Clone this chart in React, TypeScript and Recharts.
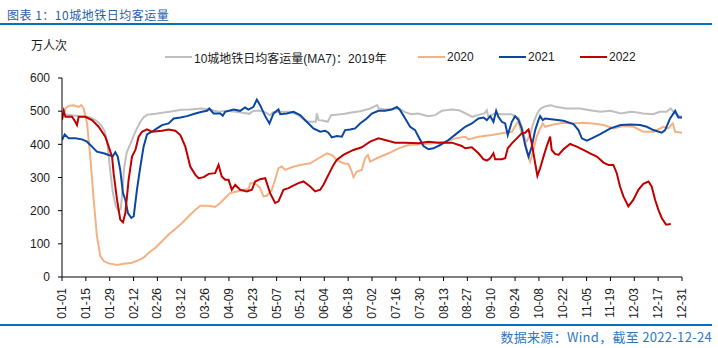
import React from "react";
import { LineChart, Line, XAxis, YAxis } from "recharts";

const titleText = "图表 1：10城地铁日均客运量";
const unitText = "万人次";
const sourceText = "数据来源：Wind，截至 2022-12-24";

const seriesNames = ["10城地铁日均客运量(MA7)：2019年", "2020", "2021", "2022"];
const seriesColors = ["#BFBFBF", "#F4B183", "#0B47A1", "#C00000"];

const xTickDays = [0, 14, 28, 42, 56, 70, 84, 98, 112, 126, 140, 154, 168, 182, 196, 210, 224, 238, 252, 266, 280, 294, 308, 322, 336, 350, 364];
const xTickLabels = ["01-01", "01-15", "01-29", "02-12", "02-26", "03-12", "03-26", "04-09", "04-23", "05-07", "05-21", "06-04", "06-18", "07-02", "07-16", "07-30", "08-13", "08-27", "09-10", "09-24", "10-08", "10-22", "11-05", "11-19", "12-03", "12-17", "12-31"];
const yTicks = [0, 100, 200, 300, 400, 500, 600];

// [day of year, value]
const s2019: [number, number][] = [
  [0, 485], [2, 490], [6, 488], [10, 485], [14, 484], [17, 480], [20, 472], [23, 458], [25, 440], [26.5, 410], [27.5, 360], [28.5, 310], [30, 250], [31.5, 215], [33, 200], [34.5, 205], [35.5, 260], [36.5, 330], [38, 375], [40, 400], [42, 425], [44, 448], [46, 468], [48, 482], [50, 489], [55, 492], [60, 496], [65, 500], [70, 504], [75, 505], [82, 508], [87, 504], [92, 498], [97, 501], [102, 498], [108, 494], [110, 492], [112, 500], [116, 502], [120, 495], [122, 488], [124, 497], [128, 498], [134, 498], [138, 490], [140, 483], [143, 470], [146, 468], [149, 468], [149.6, 493], [150.6, 473], [153, 472], [156, 468], [158, 488], [162, 490], [166, 492], [170, 496], [175, 500], [181, 508], [185, 518], [186, 508], [190, 505], [198, 508], [201, 498], [205, 491], [209, 493], [215, 485], [219, 488], [223, 501], [229, 505], [233, 503], [237, 493], [241, 483], [244, 488], [248, 493], [249.4, 503], [250.4, 483], [254, 493], [258, 491], [264, 491], [266, 483], [268, 480], [270, 453], [272, 413], [273, 410], [275, 433], [277, 468], [279, 493], [281, 508], [284, 515], [287, 518], [290, 513], [296, 508], [304, 508], [310, 503], [316, 498], [322, 501], [328, 493], [334, 498], [338, 496], [341, 493], [347, 491], [351, 498], [355, 498], [357.4, 508], [359, 498], [361, 488], [364, 483],
];

const s2020: [number, number][] = [
  [0, 475], [2, 508], [3.9, 516], [6.8, 518], [9.8, 513], [11.4, 518], [12.7, 508], [14.7, 463], [16.6, 363], [18.6, 233], [20.5, 123], [22.5, 63], [24.5, 48], [27.4, 41], [32.3, 36], [36.2, 40], [41.1, 43], [45, 51], [47.9, 58], [50.9, 73], [54.8, 88], [58.7, 108], [62.6, 128], [66.5, 145], [70.5, 163], [74.4, 183], [78.3, 203], [81.2, 215], [86.1, 215], [89.9, 211], [92.9, 223], [95.8, 238], [98.7, 253], [102.6, 258], [106.6, 263], [109.5, 265], [110.5, 283], [112.4, 283], [114.4, 278], [116.3, 268], [118.3, 243], [120.3, 245], [123.2, 263], [125.1, 293], [127.1, 328], [129.1, 333], [131, 323], [134.9, 331], [139.8, 338], [145.7, 343], [150.6, 358], [155.5, 373], [158.4, 368], [161.3, 353], [165.2, 343], [168.2, 341], [170.1, 318], [171.1, 301], [173.1, 318], [176, 323], [178, 358], [179.6, 368], [180.9, 348], [184.8, 358], [191.7, 373], [197.6, 388], [203.4, 398], [211.3, 400], [217.1, 403], [225, 408], [230.8, 418], [236.7, 423], [238.6, 415], [244.5, 423], [252.3, 428], [260.2, 435], [264.1, 438], [267, 463], [268, 468], [269.9, 433], [271.9, 413], [272.9, 378], [274.8, 348], [276.8, 383], [278.7, 423], [280.7, 448], [282.3, 463], [283.6, 453], [288.5, 460], [294.4, 465], [300.3, 463], [306.1, 465], [312, 463], [317.9, 458], [323.7, 448], [329.6, 455], [335.5, 453], [341.3, 438], [347.2, 438], [353.1, 453], [356, 448], [358.6, 463], [360, 438], [364.2, 435],
];

const s2021: [number, number][] = [
  [0, 413], [1.6, 430], [3.9, 418], [7.8, 418], [11.7, 415], [14.7, 408], [17.6, 393], [20.5, 378], [24.5, 373], [27.4, 368], [29.7, 363], [31.3, 376], [32.7, 363], [34.2, 323], [35.8, 253], [37.2, 233], [38.7, 193], [40.7, 178], [42.1, 183], [44, 263], [46, 333], [47.9, 393], [49.9, 430], [52.8, 438], [55.8, 448], [58.7, 458], [62.6, 463], [65.6, 478], [69.5, 481], [73.4, 485], [78.3, 493], [82.2, 498], [85.1, 501], [86.5, 508], [89, 493], [92.9, 493], [94.4, 486], [95.8, 498], [100.7, 505], [104.6, 501], [107.5, 511], [109.5, 505], [112.4, 513], [114.4, 535], [116.3, 518], [119.3, 485], [121.8, 463], [124.2, 493], [127.1, 505], [128.1, 491], [132, 493], [135.9, 498], [139.8, 488], [143.7, 468], [147.6, 448], [151.6, 438], [154.5, 441], [156.4, 435], [158.4, 421], [161.3, 425], [164.3, 423], [166.2, 443], [169.2, 445], [172.1, 448], [175, 463], [178.9, 478], [181.9, 493], [185.8, 501], [189.7, 501], [193.6, 505], [196.6, 513], [198.5, 503], [201.5, 478], [204.4, 453], [207.3, 443], [209.3, 423], [212.2, 395], [215.2, 385], [218.1, 388], [222, 398], [226.9, 413], [231.8, 433], [236.7, 453], [240.6, 463], [244.5, 478], [247.4, 481], [249.4, 473], [251.4, 485], [253.3, 468], [254.9, 501], [256.2, 483], [258.2, 468], [260.2, 463], [261.7, 428], [264.1, 468], [266, 485], [268, 473], [269.9, 448], [271.9, 398], [273.9, 363], [275.8, 393], [277.8, 443], [279.7, 473], [280.7, 485], [282.3, 473], [283.6, 478], [288.5, 475], [294.4, 471], [300.3, 461], [303.2, 443], [305.2, 418], [308.1, 411], [311, 418], [316, 431], [322, 448], [328, 458], [333.5, 460], [339.4, 458], [343.3, 453], [347.2, 443], [352.1, 435], [354.1, 443], [357, 478], [360, 501], [361, 490], [361.9, 481], [364.2, 481],
];

const s2022: [number, number][] = [
  [0, 473], [0.5, 490], [1, 501], [2, 483], [5.9, 483], [7.8, 468], [8.8, 458], [9.8, 483], [13.7, 483], [17.6, 473], [21.5, 453], [25.4, 423], [27.4, 393], [29.4, 363], [30.3, 313], [32.3, 233], [34.2, 173], [35.8, 165], [37.2, 193], [39.1, 293], [41.1, 363], [43.1, 383], [45, 423], [47, 438], [49.9, 445], [52.8, 438], [58.7, 441], [62.6, 445], [66.5, 441], [69.5, 428], [72.4, 393], [75.3, 333], [78.3, 308], [80.2, 298], [83.2, 301], [86.1, 311], [89.9, 313], [91.9, 338], [93.8, 303], [95.8, 293], [97.8, 293], [99.7, 263], [101.7, 278], [104.6, 263], [108.5, 258], [111.5, 263], [113.4, 288], [116.3, 295], [119.3, 298], [122.2, 253], [125.1, 223], [127.1, 228], [130, 263], [133, 268], [134.9, 273], [138.8, 283], [141.8, 288], [145.7, 273], [148.6, 258], [151.6, 263], [153.5, 278], [156.4, 308], [159.4, 338], [161.3, 353], [165.2, 368], [171.1, 383], [176, 391], [178, 398], [180.9, 408], [185.8, 418], [189.7, 413], [195.6, 405], [201.5, 405], [209.3, 403], [215.2, 408], [221, 405], [228.9, 405], [234.7, 395], [236.7, 388], [240.6, 391], [244.5, 373], [247.4, 355], [249.4, 351], [251.4, 358], [253.3, 373], [254.3, 355], [258.2, 355], [260.2, 358], [261.7, 388], [264.1, 403], [267, 418], [269.9, 433], [271.9, 435], [273.9, 445], [275.8, 403], [277.8, 343], [279.1, 305], [280.7, 328], [282.7, 363], [284.6, 395], [286.6, 423], [287.5, 383], [289.5, 371], [291.5, 368], [294.4, 385], [298.3, 401], [302.2, 393], [306.1, 383], [310, 373], [314, 363], [317.9, 345], [320.8, 338], [323.7, 338], [325.7, 313], [327.6, 273], [329.6, 243], [332.5, 213], [335.5, 233], [338.4, 263], [341.3, 281], [344.3, 288], [346.2, 273], [348.2, 233], [350.1, 203], [352.1, 178], [354.6, 158], [356, 158], [357.4, 161],
];

const allSeries = [s2019, s2020, s2021, s2022];
const toRows = (s: [number, number][]) => s.map(([d, v]) => ({ d, v }));

const tickFont = "'Liberation Sans', Arial, 'Noto Sans CJK SC', sans-serif";
const cjkFont = "'Liberation Sans', Arial, 'Noto Sans CJK SC', sans-serif";

const XTick = (props: any) => {
  const { x, y, payload } = props;
  const idx = xTickDays.indexOf(payload.value);
  return (
    <g transform={`translate(${x},${y})`}>
      <text transform="rotate(-90)" textAnchor="end" dominantBaseline="central" fontSize={12} fill="#1a1a1a" fontFamily={tickFont}>
        {idx >= 0 ? xTickLabels[idx] : ""}
      </text>
    </g>
  );
};

const legendX = [165, 418, 499, 580];

export default function App() {
  return (
    <div style={{ position: "absolute", left: 0, top: 0, width: 718, height: 348, background: "#fff", overflow: "hidden", fontFamily: cjkFont }}>
      <div style={{ position: "absolute", left: 7, top: 6, fontSize: 12, letterSpacing: 0.5, color: "#1F5FA6", fontFamily: "'Noto Sans CJK SC', sans-serif", lineHeight: "18px", whiteSpace: "nowrap" }}>{titleText}</div>
      <div style={{ position: "absolute", left: 0, top: 23, width: 712, height: 2, background: "#0070C0" }} />
      <div style={{ position: "absolute", left: 31, top: 37, fontSize: 12, color: "#1a1a1a", fontFamily: "'Noto Sans CJK SC', sans-serif", lineHeight: "16px" }}>{unitText}</div>
      {seriesNames.map((n, i) => (
        <div key={n} style={{ position: "absolute", left: legendX[i], top: 48, height: 18, display: "flex", alignItems: "center", whiteSpace: "nowrap" }}>
          <div style={{ width: 27, height: 2, background: seriesColors[i], marginRight: 2 }} />
          <span style={{ fontSize: 12, color: "#1a1a1a", fontFamily: cjkFont }}>{n}</span>
        </div>
      ))}
      <div style={{ position: "absolute", left: 0, top: 0 }}>
        <LineChart width={718} height={348} margin={{ top: 78, right: 36, bottom: 21, left: 22 }}>
          <XAxis
            dataKey="d"
            type="number"
            domain={[0, 364]}
            ticks={xTickDays}
            interval={0}
            allowDataOverflow
            height={50}
            tickSize={4}
            tickMargin={7}
            tick={<XTick />}
            axisLine={{ stroke: "#000", strokeWidth: 1 }}
            tickLine={{ stroke: "#000" }}
          />
          <YAxis
            type="number"
            domain={[0, 600]}
            ticks={yTicks}
            interval={0}
            width={40}
            tickSize={4}
            tickMargin={8}
            tick={{ fontSize: 12, fill: "#1a1a1a", fontFamily: tickFont }}
            axisLine={{ stroke: "#000", strokeWidth: 1 }}
            tickLine={{ stroke: "#000" }}
          />
          {allSeries.map((s, i) => (
            <Line
              key={seriesNames[i]}
              data={toRows(s)}
              dataKey="v"
              name={seriesNames[i]}
              type="linear"
              stroke={seriesColors[i]}
              strokeWidth={2}
              dot={false}
              activeDot={false}
              isAnimationActive={false}
            />
          ))}
        </LineChart>
      </div>
      <div style={{ position: "absolute", left: 0, top: 324, width: 712, height: 2, background: "#0070C0" }} />
      <div style={{ position: "absolute", right: 6, top: 328, fontSize: 13, letterSpacing: 0.3, color: "#2F78C4", fontFamily: "'Noto Sans CJK SC', sans-serif", lineHeight: "18px", whiteSpace: "nowrap" }}>{sourceText}</div>
    </div>
  );
}
